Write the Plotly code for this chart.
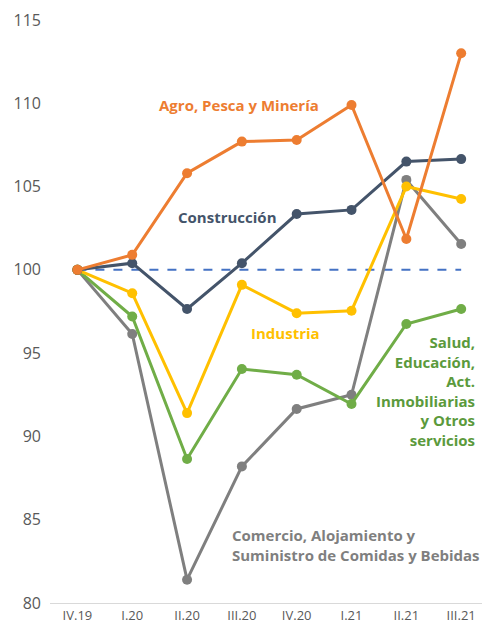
import plotly.graph_objects as go

# Trimestres
quarters = ["IV.19", "I.20", "II.20", "III.20", "IV.20", "I.21", "II.21", "III.21"]

# Índices (IV.19 = 100)
agro = [100, 100.9, 105.8, 107.7, 107.8, 109.9, 101.85, 113.0]
construccion = [100, 100.4, 97.65, 100.4, 103.35, 103.6, 106.5, 106.65]
industria = [100, 98.6, 91.4, 99.1, 97.4, 97.55, 105.0, 104.25]
salud = [100, 97.2, 88.65, 94.05, 93.7, 91.95, 96.75, 97.65]
comercio = [100, 96.15, 81.4, 88.2, 91.65, 92.5, 105.4, 101.55]
base = [100] * len(quarters)

FONT = "Open Sans"
series = [
    ("Comercio", comercio, "#7F7F7F"),
    ("Salud", salud, "#70AD47"),
    ("Industria", industria, "#FFC000"),
    ("Construcción", construccion, "#44546A"),
    ("Agro", agro, "#ED7D31"),
]

fig = go.Figure()

fig.add_trace(
    go.Scatter(
        x=quarters, y=base, mode="lines",
        line=dict(color="#4472C4", width=2, dash="dash"),
        showlegend=False, hoverinfo="skip",
    )
)

for name, vals, color in series:
    fig.add_trace(
        go.Scatter(
            x=quarters, y=vals, name=name, mode="lines+markers",
            line=dict(color=color, width=3),
            marker=dict(color=color, size=10),
            showlegend=False,
        )
    )

labels = [
    ("<b>Agro, Pesca y Minería</b>", 2.94, 109.9, "#ED7D31", "center", "center"),
    ("<b>Construcción</b>", 2.74, 103.2, "#44546A", "center", "center"),
    ("<b>Industria</b>", 3.8, 96.2, "#FFC000", "center", "center"),
    ("<b>Salud,<br>Educación,<br>Act.<br>Inmobiliarias<br>y Otros<br>servicios</b>",
     7.28, 92.7, "#5B9A3C", "right", "right"),
    ("<b>Comercio, Alojamiento y<br>Suministro de Comidas y Bebidas</b>",
     2.79, 83.5, "#7F7F7F", "left", "left"),
]
for text, x, y, color, xanchor, align in labels:
    fig.add_annotation(
        text=text, x=x, y=y, xref="x", yref="y",
        xanchor=xanchor, yanchor="middle", align=align,
        showarrow=False, font=dict(family=FONT, size=15, color=color),
    )

fig.update_layout(
    width=482, height=628,
    margin=dict(t=20, b=25, l=50, r=0),
    paper_bgcolor="white",
    plot_bgcolor="white",
    font=dict(family=FONT, color="#595959"),
)

fig.update_xaxes(
    range=[-0.5, 7.38], showgrid=False, zeroline=False,
    showline=True, linecolor="#D9D9D9", linewidth=1,
    tickfont=dict(size=13, color="#595959"),
)
fig.update_yaxes(
    range=[80, 115], dtick=5, showgrid=False, zeroline=False,
    tickfont=dict(size=16, color="#595959"), ticklabelstandoff=8,
)

fig.write_html(
    "out.html",
    config={"displayModeBar": False},
    post_script="document.body.style.margin='0';",
)
